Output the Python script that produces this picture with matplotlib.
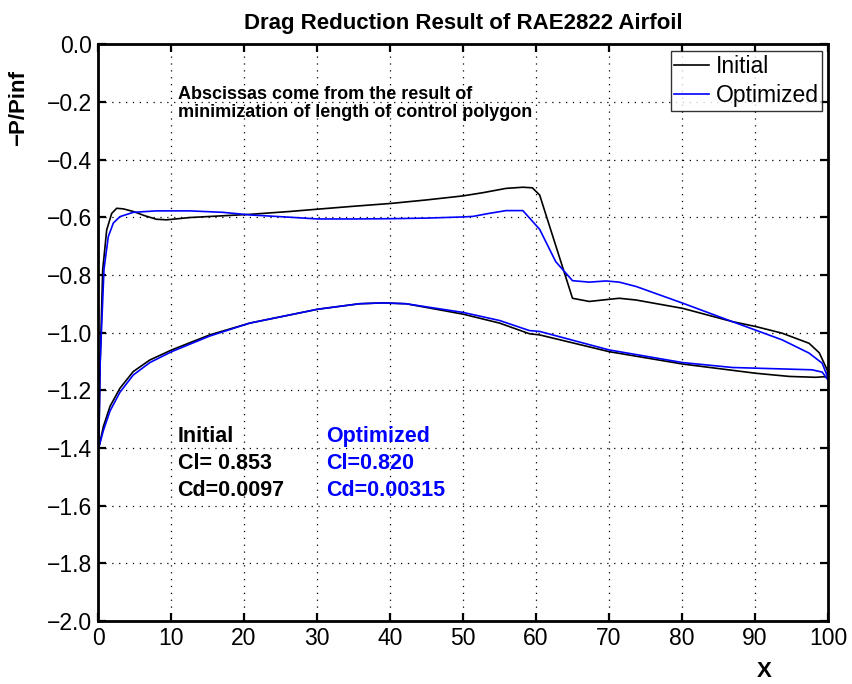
import matplotlib
matplotlib.use('Agg')
import matplotlib.pyplot as plt

plt.rcParams['font.family'] = ['Liberation Sans', 'DejaVu Sans']

# upper surface, initial
x_up_init = [0.1, 0.27, 0.64, 1.19, 1.87, 2.56, 3.46, 4.83, 6.43, 8.0, 9.4, 12.6, 17.1, 20.8, 26.3,
             30.1, 35.0, 40.2, 45.0, 50.0, 52.7, 55.9, 58.2, 59.5, 60.5, 65.0, 67.3, 69.5, 71.4,
             73.7, 80.1, 86.9, 90.1, 93.7, 97.4, 98.8, 99.9, 100.0]
y_up_init = [-1.40, -1.13, -0.783, -0.644, -0.587, -0.569, -0.571, -0.58, -0.595, -0.607, -0.609,
             -0.601, -0.595, -0.59, -0.58, -0.572, -0.562, -0.552, -0.54, -0.526, -0.515, -0.50,
             -0.496, -0.498, -0.523, -0.881, -0.892, -0.886, -0.881, -0.887, -0.916, -0.962,
             -0.979, -1.002, -1.037, -1.07, -1.13, -1.157]

# upper surface, optimized
x_up_opt = [0.1, 0.3, 0.82, 1.41, 2.1, 3.0, 4.83, 8.0, 12.6, 17.1, 20.8, 26.3, 30.1, 35.0, 40.2,
            45.0, 50.0, 51.4, 53.5, 55.9, 58.2, 60.5, 62.7, 65.0, 67.3, 69.6, 71.4, 73.7, 80.1,
            86.9, 93.7, 97.4, 99.2, 100.0]
y_up_opt = [-1.40, -1.10, -0.78, -0.667, -0.62, -0.598, -0.583, -0.578, -0.578, -0.583, -0.592,
            -0.60, -0.606, -0.606, -0.605, -0.603, -0.599, -0.597, -0.587, -0.577, -0.577,
            -0.642, -0.754, -0.82, -0.825, -0.821, -0.825, -0.84, -0.898, -0.962, -1.025,
            -1.071, -1.106, -1.157]

# lower surface, initial
x_lo_init = [0.1, 0.73, 1.64, 3.0, 4.83, 7.1, 10.1, 15.3, 20.8, 30.1, 35.8, 39.0, 42.2, 50.0,
             55.0, 59.1, 60.5, 70.0, 80.1, 90.1, 94.7, 98.3, 99.5, 100.0]
y_lo_init = [-1.40, -1.326, -1.256, -1.193, -1.135, -1.095, -1.06, -1.008, -0.967, -0.919,
             -0.900, -0.897, -0.900, -0.936, -0.967, -1.004, -1.008, -1.066, -1.109, -1.141,
             -1.152, -1.155, -1.153, -1.157]

# lower surface, optimized
x_lo_opt = [0.1, 0.73, 1.64, 3.0, 4.83, 7.1, 10.1, 15.3, 20.8, 30.1, 35.8, 39.0, 42.2, 50.0,
            55.0, 59.1, 60.5, 70.0, 80.1, 86.9, 93.7, 97.8, 99.2, 100.0]
y_lo_opt = [-1.40, -1.34, -1.272, -1.207, -1.147, -1.104, -1.066, -1.012, -0.967, -0.919,
            -0.900, -0.897, -0.900, -0.93, -0.958, -0.993, -0.996, -1.06, -1.104, -1.121,
            -1.126, -1.129, -1.137, -1.164]

note_lines = ['Abscissas come from the result of', 'minimization of length of control polygon']
init_lines = ['Initial', 'Cl= 0.853', 'Cd=0.0097']
opt_lines = ['Optimized', 'Cl=0.820', 'Cd=0.00315']

fig = plt.figure(figsize=(8.53, 6.84), dpi=100)
ax = fig.add_axes([0.1149, 0.0921, 0.8558, 0.8433])

ax.plot(x_up_init, y_up_init, color='black', lw=1.2, label='Initial')
ax.plot(x_up_opt, y_up_opt, color='blue', lw=1.2, label='Optimized')
ax.plot(x_lo_init, y_lo_init, color='black', lw=1.2)
ax.plot(x_lo_opt, y_lo_opt, color='blue', lw=1.2)

ax.set_xlim(0, 100)
ax.set_ylim(-2, 0)
ax.set_xticks(range(0, 101, 10))
ax.set_yticks([-2.0, -1.8, -1.6, -1.4, -1.2, -1.0, -0.8, -0.6, -0.4, -0.2, 0.0])
ax.grid(True, color='black', linestyle=(0, (1, 4.5)), linewidth=0.9)
ax.tick_params(direction='in', length=6, width=1.6, top=True, right=True, labelsize=16.5, pad=4)
for s in ax.spines.values():
    s.set_linewidth(2)

ax.set_title('Drag Reduction Result of RAE2822 Airfoil', fontsize=16, fontweight='bold', pad=11)
ax.set_ylabel('\u2212P/Pinf', fontsize=16, fontweight='bold')
ax.yaxis.set_label_coords(-0.094, 0.89)
ax.set_xlabel('X', fontsize=16, fontweight='bold')
ax.xaxis.set_label_coords(0.912, -0.07)

ax.text(10.9, -0.176, note_lines[0], fontsize=13, fontweight='bold', va='center')
ax.text(10.9, -0.236, note_lines[1], fontsize=13, fontweight='bold', va='center')
for i, (a, b) in enumerate(zip(init_lines, opt_lines)):
    yy = -1.36 - 0.093 * i
    ax.text(10.9, yy, a, fontsize=15.5, fontweight='bold', va='center', color='black')
    ax.text(31.3, yy, b, fontsize=15.5, fontweight='bold', va='center', color='blue')

leg = ax.legend(loc='upper right', bbox_to_anchor=(1 - 6 / 730, 1 - 7 / 577), borderaxespad=0,
                fontsize=16.5, frameon=True, fancybox=False, edgecolor='black',
                handlelength=1.5, handletextpad=0.3, borderpad=0.15, labelspacing=0.3)
leg.get_frame().set_linewidth(1.0)

fig.savefig('out.png', dpi=100)
